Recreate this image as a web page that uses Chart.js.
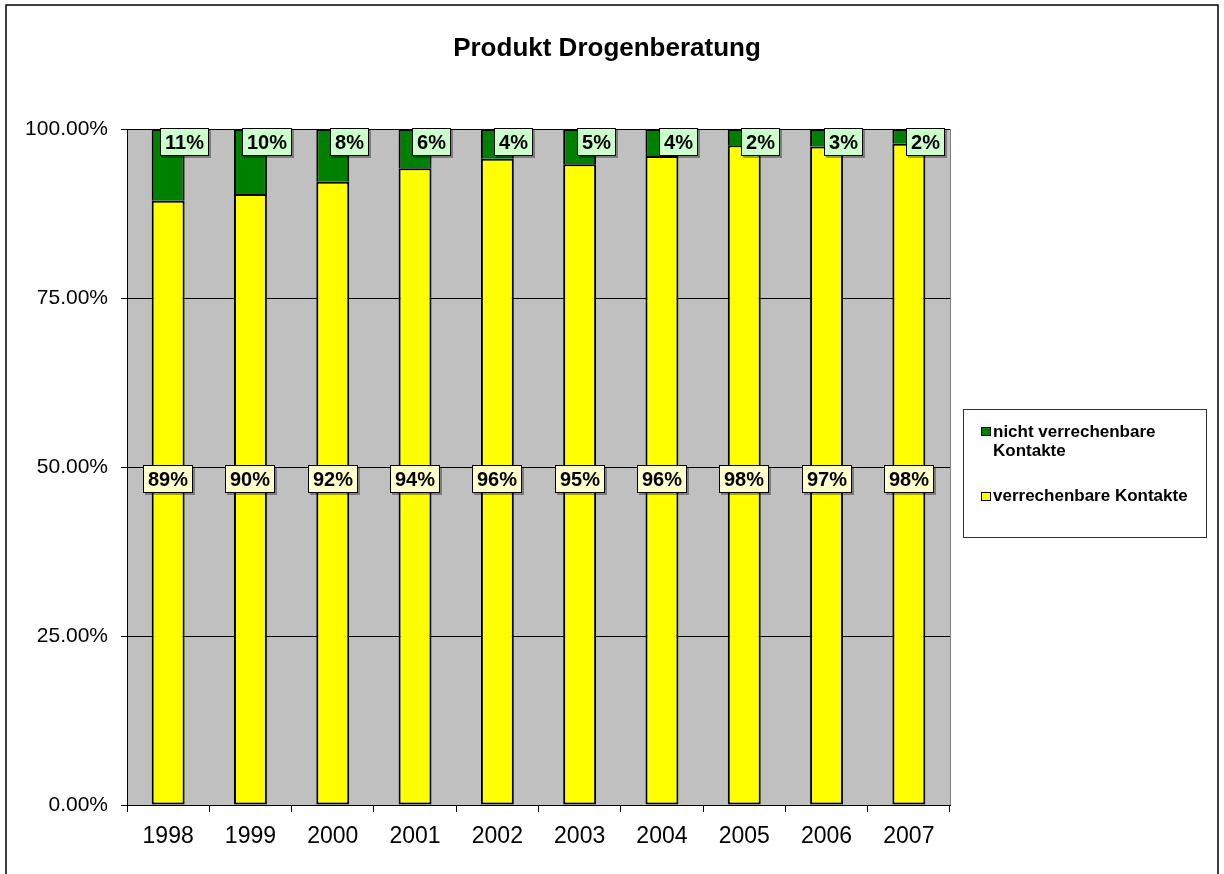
<!DOCTYPE html>
<html><head><meta charset="utf-8">
<script src="https://cdn.jsdelivr.net/npm/chart.js@4/dist/chart.umd.min.js"></script>
<style>html,body{margin:0;padding:0;background:#fff;}canvas{display:block;}</style>
</head><body>
<canvas id="c" width="1224" height="874"></canvas>
<script>
const titleText = 'Produkt Drogenberatung';
const years = ['1998','1999','2000','2001','2002','2003','2004','2005','2006','2007'];
const verrechenbar = [89.4, 90.4, 92.2, 94.2, 95.6, 94.8, 96.0, 97.6, 97.4, 97.8];
const nichtVerrechenbar = [10.6, 9.6, 7.8, 5.8, 4.4, 5.2, 4.0, 2.4, 2.6, 2.2];
const yTicks = [0, 25, 50, 75, 100];
const seriesNames = ['verrechenbare Kontakte', 'nicht verrechenbare Kontakte'];
const FONT = '"Liberation Sans", Arial, sans-serif';

const framePlugin = {
  id: 'frame',
  beforeDraw(chart) {
    const ctx = chart.ctx, a = chart.chartArea;
    ctx.save();
    ctx.fillStyle = '#fff';
    ctx.fillRect(0, 0, chart.width, chart.height);
    ctx.fillStyle = '#C0C0C0';
    ctx.fillRect(a.left, a.top, a.right - a.left, a.bottom - a.top);
    ctx.restore();
  },
  afterDraw(chart) {
    const ctx = chart.ctx, a = chart.chartArea;
    ctx.save();
    ctx.strokeStyle = '#808080';
    ctx.lineWidth = 1;
    ctx.beginPath(); ctx.moveTo(a.right + 0.5, a.top); ctx.lineTo(a.right + 0.5, a.bottom); ctx.stroke();
    ctx.strokeStyle = '#000';
    ctx.lineWidth = 1.5;
    ctx.strokeRect(6, 5, 1212, 900);
    ctx.fillStyle = '#000';
    ctx.font = 'bold 26px ' + FONT;
    ctx.textAlign = 'center';
    ctx.textBaseline = 'alphabetic';
    ctx.fillText(titleText, 607, 56);
    ctx.fillStyle = '#fff';
    ctx.fillRect(963, 409, 243, 128);
    ctx.strokeStyle = '#333';
    ctx.lineWidth = 1;
    ctx.strokeRect(963.5, 409.5, 243, 128);
    ctx.font = 'bold 17px ' + FONT;
    ctx.textAlign = 'left';
    ctx.fillStyle = '#008000';
    ctx.fillRect(981, 427, 10, 9);
    ctx.strokeStyle = '#000';
    ctx.strokeRect(981.5, 427.5, 9, 8);
    ctx.fillStyle = '#000';
    ctx.fillText('nicht verrechenbare', 993, 437);
    ctx.fillText('Kontakte', 993, 456);
    ctx.fillStyle = '#FFFF00';
    ctx.fillRect(981, 492, 10, 9);
    ctx.strokeRect(981.5, 492.5, 9, 8);
    ctx.fillStyle = '#000';
    ctx.fillText(seriesNames[0], 993, 501);
    ctx.restore();
  }
};

function drawBox(ctx, text, cx, cy, fill) {
  ctx.font = 'bold 20px ' + FONT;
  const w = Math.round(ctx.measureText(text).width + 10);
  const h = 28;
  const x = Math.round(cx - w / 2), y = Math.round(cy - h / 2);
  ctx.fillStyle = 'rgba(0,0,0,0.35)';
  ctx.fillRect(x + 2, y + 2, w, h);
  ctx.fillStyle = fill;
  ctx.fillRect(x, y, w, h);
  ctx.strokeStyle = '#000';
  ctx.lineWidth = 1;
  ctx.strokeRect(x + 0.5, y + 0.5, w - 1, h - 1);
  ctx.fillStyle = '#000';
  ctx.textAlign = 'center';
  ctx.textBaseline = 'middle';
  ctx.fillText(text, x + w / 2, y + h / 2 + 1);
}

const labelPlugin = {
  id: 'labels',
  afterDatasetsDraw(chart) {
    const ctx = chart.ctx, a = chart.chartArea;
    const metaY = chart.getDatasetMeta(0), metaG = chart.getDatasetMeta(1);
    const ys = chart.scales.y;
    ctx.save();
    metaY.data.forEach((bar, i) => {
      drawBox(ctx, Math.round(verrechenbar[i]) + '%', bar.x, ys.getPixelForValue(48.2), '#FFFFCC');
    });
    metaG.data.forEach((bar, i) => {
      drawBox(ctx, Math.round(nichtVerrechenbar[i]) + '%', bar.x + bar.width / 2, a.top + 13, '#CCFFCC');
    });
    ctx.restore();
  }
};

new Chart(document.getElementById('c'), {
  type: 'bar',
  data: {
    labels: years,
    datasets: [
      { label: seriesNames[0], data: verrechenbar, backgroundColor: '#FFFF00', borderColor: '#000', borderWidth: 2, borderSkipped: false, barPercentage: 0.4, categoryPercentage: 1 },
      { label: seriesNames[1], data: nichtVerrechenbar, backgroundColor: '#008000', borderColor: '#000', borderWidth: 2, borderSkipped: 'bottom', barPercentage: 0.4, categoryPercentage: 1 }
    ]
  },
  options: {
    responsive: false,
    animation: false,
    events: [],
    layout: { padding: { left: 0, top: 129, right: 274, bottom: 0 } },
    plugins: { legend: { display: false }, title: { display: false }, tooltip: { enabled: false } },
    scales: {
      x: {
        stacked: true,
        grid: { display: true, drawOnChartArea: false, drawTicks: true, tickLength: 7, color: '#000', offset: true },
        border: { display: true, color: '#000', width: 1 },
        ticks: { color: '#000', font: { family: FONT, size: 23 }, padding: 11, maxRotation: 0 },
        afterFit(s) { s.height = 69; }
      },
      y: {
        stacked: true,
        min: 0, max: 100,
        afterBuildTicks(s) { s.ticks = yTicks.map(v => ({ value: v })); },
        grid: { color: '#000', lineWidth: 1, tickLength: 6, drawTicks: true },
        border: { display: true, color: '#000', width: 1 },
        ticks: { color: '#000', font: { family: FONT, size: 21 }, padding: 13, callback: v => v.toFixed(2) + '%' },
        afterFit(s) { s.width = 127; }
      }
    }
  },
  plugins: [framePlugin, labelPlugin]
});
</script>
</body></html>
